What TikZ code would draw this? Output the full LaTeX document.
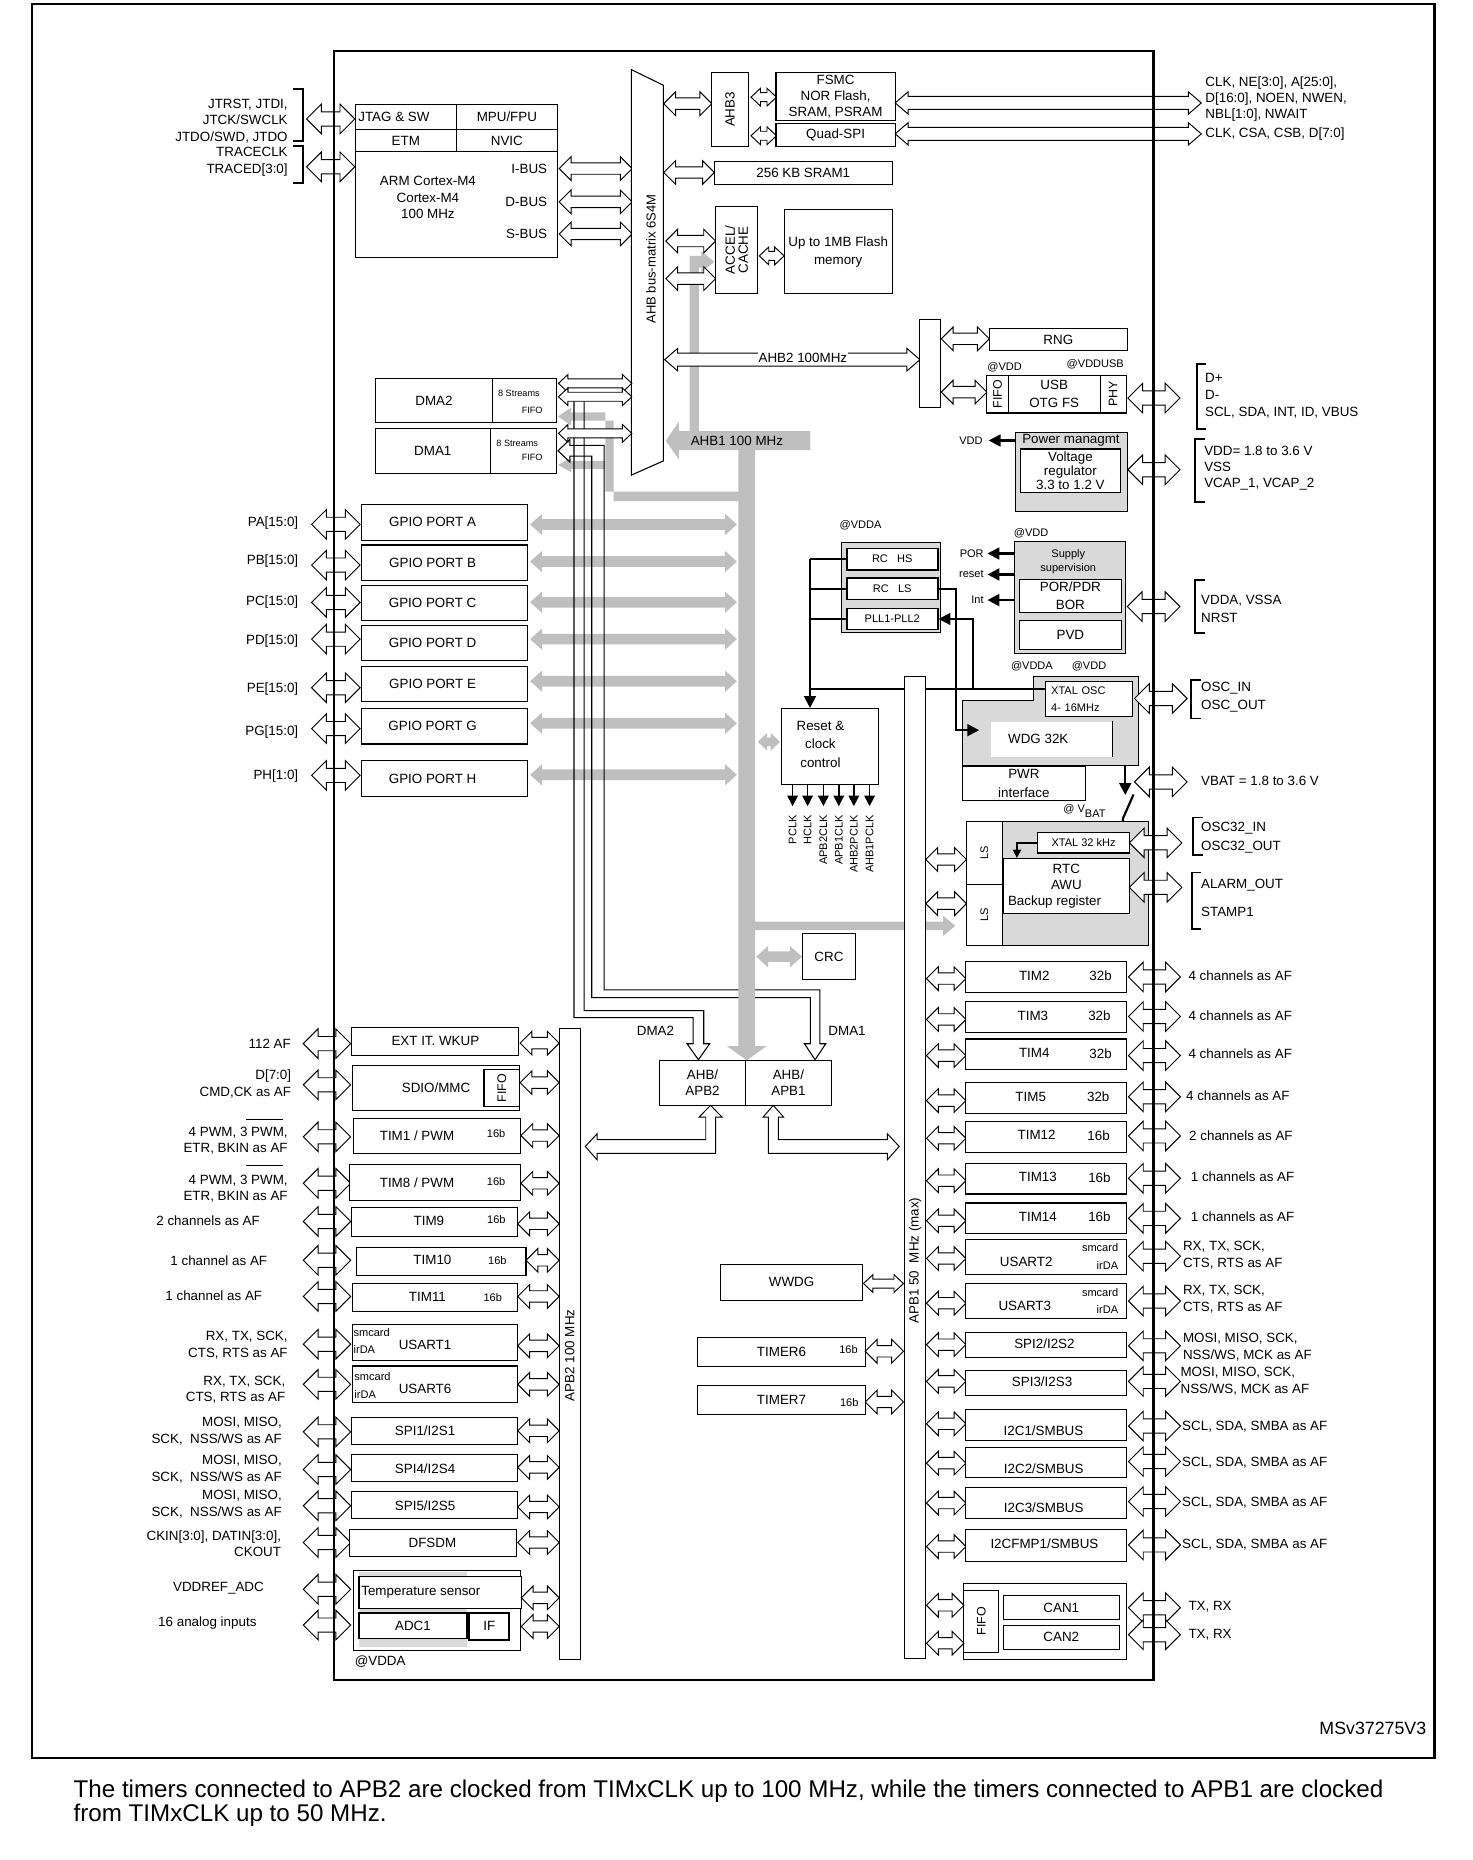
\documentclass[tikz,border=0pt]{standalone}
\usepackage{graphicx}
\usepackage{fontspec}
\setmainfont{Liberation Sans}
\usetikzlibrary{arrows.meta}
% hollow bus arrow: style, head length, head half width, shaft half width, (x1:x2:y)
\def\busarrow#1#2#3#4(#5:#6:#7){\path[#1] (#5,#7) -- (#5+#2,#7-#3) -- (#5+#2,#7-#4) -- (#6-#2,#7-#4) -- (#6-#2,#7-#3) -- (#6,#7) -- (#6-#2,#7+#3) -- (#6-#2,#7+#4) -- (#5+#2,#7+#4) -- (#5+#2,#7+#3) -- cycle;}
\def\dbus{\busarrow{bus}{8}{7.5}{3.8}}
\def\hbus{\busarrow{bus}{10}{10}{4.8}}
\def\mbus{\busarrow{bus}{11}{9.5}{5.5}}
\def\Hbus{\busarrow{bus}{12.5}{12.5}{6}}
\def\gbus{\busarrow{gbus}{10}{9}{4.5}}
\def\blk[#1](#2)(#3,#4)(#5,#6)#7{\pgfmathsetmacro\blkw{#5-#3}\pgfmathsetmacro\blkh{#6-#4}\node[box,#1,minimum width=\blkw pt,minimum height=\blkh pt] (#2) at ({(#3+#5)/2},{(#4+#6)/2}) {#7};}
\def\brk(#1:#2:#3){\draw[line width=1.6pt] (#1+8,#2) -- (#1,#2) -- (#1,#3) -- (#1+8,#3);}
\tikzset{
  box/.style={draw, line width=0.9pt, fill=white, inner sep=0pt},
  gbox/.style={fill=gray!30},
  bus/.style={draw, line width=0.8pt, fill=white},
  gbus/.style={fill=gray!50},
  pipe/.style={line width=0.9pt},
  wire/.style={line width=1.8pt},
  arr/.style={-{Triangle[length=10pt,width=10pt]}},
  sm/.style={font=\fontsize{9.3}{11.8}\selectfont},
  tiny/.style={font=\fontsize{7.7}{9}\selectfont},
  lead/.style={font=\fontsize{11.3}{#1}\selectfont},
  extr/.style={anchor=west, align=left},
  extl/.style={anchor=east, align=right},
}
\begin{document}
\begin{tikzpicture}[x=1pt, y=-1pt, every node/.style={font=\fontsize{11.3}{13.5}\selectfont, inner sep=0pt, align=center}]
		\useasboundingbox (0,0) rectangle (1243,1570);
		
		%%%%% AHB1 GRAY PATHS %%%%%
		\gbus(447.5:622:442.7)
		\gbus(447.5:622:474)
		\gbus(447.5:622:508.3)
		\gbus(447.5:622:539.5)
		\gbus(447.5:622:575)
		\gbus(447.5:622:610.5)
		\gbus(447.5:622:654)
		\fill[gbus] (624,415) -- (511,415) -- (511,348) -- (482,348) -- (482,344) -- (471,351.5) -- (482,359) -- (482,355) -- (518,355) -- (518,423) -- (624,423) -- cycle;
		\fill[gbus] (511,389) -- (482,389) -- (482,386.5) -- (471,392.5) -- (482,398.5) -- (482,396) -- (511,396) -- cycle;
		\fill[gbus] (582,364) -- (582,216) -- (592,216) -- (592,212) -- (603,221) -- (592,230) -- (592,226) -- (590,226) -- (590,364) -- cycle;
		
		%%%%% DMA PIPES %%%%%
		\draw[pipe] (484.5,338.7) -- (484.5,859) -- (585,859) -- (585,881) -- (580,881) -- (589.5,894.5) -- (599,881) -- (594,881) -- (594,853) -- (493,853) -- (493,338.7);
		\draw[pipe] (510,376) -- (481,376) -- (481,371) -- (471,380.5) -- (481,390) -- (481,385) -- (499.5,385) -- (499.5,842) -- (684,842) -- (684,881) -- (679,881) -- (688,894.5) -- (697,881) -- (692,881) -- (692,835.5) -- (510,835.5) -- cycle;
		\node (dma2lbl) at (553.3,870) {DMA2};
		\node (dma1lbl) at (715,870) {DMA1};
		
		\fill[gbus] (684,364) -- (573,364) -- (573,356) -- (562,372) -- (573,388) -- (573,380) -- (684,380) -- cycle;
		\fill[gbus] (623.3,372) -- (637.4,372) -- (637.4,883) -- (647,883) -- (630.3,895) -- (613.5,883) -- (623.3,883) -- cycle;
		\fill[gbus] (637,778) -- (796,778) -- (796,773) -- (806.5,781.5) -- (796,790) -- (796,785) -- (637,785) -- cycle;
		\gbus(638.3:676.8:807.5)
		\busarrow{gbus}{8}{7.5}{3.5}(639.6:658.5:626.2)
		\node (ahb1) at (622,372) {AHB1 100 MHz};
		
		%%%%% CORTEX %%%%%
		\draw[line width=1.6pt] (247.7,74.8) -- (256,74.8) -- (256,119) -- (247.7,119);
		\draw[line width=1.6pt] (247.7,123) -- (256,123) -- (256,154.4) -- (247.7,154.4);
		\node[extl, lead=14] (jtagpins) at (243,102) {JTRST, JTDI,\\JTCK/SWCLK\\JTDO/SWD, JTDO};
		\node[extl, lead=14.2] (tracepins) at (243,136.7) {TRACECLK\\TRACED[3:0]};
		\Hbus(258.8:299.5:100.4)
		\Hbus(258.8:299.5:140.8)
		\blk[](jtag)(300,88.3)(385,109.2){\hspace*{-20pt}JTAG \& SW}
		\blk[](mpu)(385,88.3)(470.7,109.2){MPU/FPU}
		\blk[](etm)(300,109.2)(385,128){ETM}
		\blk[](nvic)(385,109.2)(470.7,128){NVIC}
		\blk[](cpu)(300,128)(470.7,217){}
		\node[lead=13.9] (cpulbl) at (361.2,167) {ARM Cortex-M4\\Cortex-M4\\100 MHz};
		\node[anchor=east] (ibus) at (462,142.3) {I-BUS};
		\node[anchor=east] (dbus) at (462,170.4) {D-BUS};
		\node[anchor=east] (sbus) at (462,197.5) {S-BUS};
		\hbus(472:533.6:142.3)
		\hbus(472:533.6:170.4)
		\hbus(472:533.6:197.5)
		
		\draw[line width=0.9pt, fill=white] (533,58.8) -- (560,72) -- (560,389) -- (533,401) -- cycle;
		\node[rotate=90, font=\fontsize{11}{13}\selectfont] (mtx) at (549.5,218.6) {AHB bus-matrix 6S4M};
		
		%%%%% AHB3 / MEMORIES %%%%%
		\hbus(560.2:600.8:87.5)
		\blk[](ahb3)(600.9,61.2)(631.5,123.6){\rotatebox{90}{AHB3}}
		\dbus(633.9:655.4:82)
		\dbus(633.9:655.4:114.6)
		\blk[lead=13.8](fsmc)(655,61.2)(755.6,102){FSMC\\NOR Flash,\\SRAM, PSRAM}
		\blk[](qspi)(655,104.6)(755.6,124){Quad-SPI}
		\mbus(755.6:1014:86.9)
		\mbus(755.6:1014:113)
		\node[extr, lead=13.7] (fsmcpins) at (1017.3,83.7) {CLK, NE[3:0], A[25:0],\\D[16:0], NOEN, NWEN,\\NBL[1:0], NWAIT};
		\node[extr] (qspipins) at (1017.3,113) {CLK, CSA, CSB, D[7:0]};
		\hbus(560.2:603:145.6)
		\blk[](sram)(603,136.6)(753,155.6){256 KB SRAM1}
		\hbus(562:604:203.5)
		\hbus(562:604:235.2)
		\blk[lead=13](accel)(604,174)(639.5,248){\rotatebox{90}{\shortstack{ACCEL/\\CACHE}}}
		\dbus(640.9:661.9:216)
		\blk[lead=15](flash)(662,177)(753,248){Up to 1MB Flash\\memory}
		
		%%%%% AHB2 / USB / POWER %%%%%
		\mbus(561:776.5:303.6)
		\node[fill=white, inner sep=0.5pt] (ahb2) at (677.7,302) {AHB2 100MHz};
		\blk[](ahb2br)(776.5,269.5)(793.6,343.7){}
		\hbus(794.5:835:286)
		\hbus(794.5:833:331)
		\blk[](rng)(835,277)(951.6,296){RNG}
		\blk[lead=15.3](usb)(851,316.6)(928.7,348.6){USB\\OTG FS}
		\blk[font=\fontsize{10.5}{12}\selectfont](usbfifo)(833,316.6)(851,348.6){\rotatebox{90}{FIFO}}
		\blk[font=\fontsize{10.5}{12}\selectfont](phy)(928.7,316.6)(950.5,348.6){\rotatebox{90}{PHY}}
		\node[sm] (usbvdd) at (848,310) {@VDD};
		\node[sm] (usbvddusb) at (924.5,307.8) {@VDDUSB};
		\Hbus(952:996:336)
		\brk(1010:307:362)
		\node[extr, lead=14.3] (usbpins) at (1017,334) {D+\\D-\\SCL, SDA, INT, ID, VBUS};
		
		\blk[gbox](pwr)(857,364.9)(951.6,431.5){}
		\node (pwrlbl) at (904,371.8) {Power managmt};
		\blk[lead=11.8](vreg)(861,379)(946,415.5){Voltage\\regulator\\3.3 to 1.2 V}
		\node[sm] (vddout) at (819.5,371.8) {VDD};
		\draw[wire, arr] (pwr.west |- pwrlbl) -- ([xshift=5pt]vddout.east);
		\Hbus(952:996:396.5)
		\brk(1009:370.8:423.6)
		\node[extr, lead=13.4] (pwrpins) at (1016.3,395) {VDD= 1.8 to 3.6 V\\VSS\\VCAP\_1, VCAP\_2};
		
		%%%%% DMA %%%%%
		\blk[](dma2)(316.6,319.6)(416,357){DMA2}
		\blk[](dma2f)(416,319.6)(469.4,357){}
		\node[tiny] (dma2s) at (438,331.7) {8 Streams};
		\node[tiny] (dma2ff) at (449.2,346.7) {FIFO};
		\blk[](dma1)(316.6,361.8)(414,399.5){DMA1}
		\blk[](dma1f)(414,361.8)(469.4,399.5){}
		\node[tiny] (dma1s) at (436.6,373.9) {8 Streams};
		\node[tiny] (dma1ff) at (449.2,385.9) {FIFO};
		\dbus(471.4:533.3:323.6)
		\dbus(471.4:533.3:334.9)
		\dbus(471.4:533.3:365.8)
		
		%%%%% GPIO %%%%%
		\node[extl] (pa) at (251.9,441.8) {PA[15:0]};
		\node[extl] (pb) at (251.9,473.6) {PB[15:0]};
		\node[extl] (pc) at (251.9,508.5) {PC[15:0]};
		\node[extl] (pd) at (251.9,540.9) {PD[15:0]};
		\node[extl] (pe) at (251.9,581.7) {PE[15:0]};
		\node[extl] (pg) at (251.9,618.3) {PG[15:0]};
		\node[extl] (ph) at (251.9,654.9) {PH[1:0]};
		\Hbus(263:304:442.6)
		\Hbus(263:304:477)
		\Hbus(263:304:508.5)
		\Hbus(263:304:539.5)
		\Hbus(263:304:580.5)
		\Hbus(263:304:615)
		\Hbus(263:304:654.5)
		\blk[](gpioa)(304.8,425.8)(445.5,455.9){\hspace*{-20pt}GPIO PORT A}
		\blk[](gpiob)(304.8,460)(445.5,489.7){\hspace*{-20pt}GPIO PORT B}
		\blk[](gpioc)(304.8,493.9)(445.5,524){\hspace*{-20pt}GPIO PORT C}
		\blk[](gpiod)(304.8,527.7)(445.5,557.2){\hspace*{-20pt}GPIO PORT D}
		\blk[](gpioe)(304.8,562.8)(445.5,592.4){\hspace*{-20pt}GPIO PORT E}
		\blk[](gpiog)(304.8,598)(445.5,628){\hspace*{-20pt}GPIO PORT G}
		\blk[](gpioh)(304.8,642.2)(445.5,672){\hspace*{-20pt}GPIO PORT H}
		
		%%%%% CLOCKS AND SUPPLY %%%%%
		\node[sm] (rcvdda) at (726.4,443.2) {@VDDA};
		\blk[gbox, line width=1.2pt](rcblk)(710.4,458)(793.7,534){}
		\blk[sm, line width=1.5pt](rchs)(714.7,463)(791.5,481){RC\ \ \ HS}
		\blk[sm, line width=1.5pt](rcls)(714.7,488)(791.5,506){RC\ \ \ LS}
		\blk[sm, line width=1.5pt](pll)(714.7,513.6)(791.5,531.3){PLL1-PLL2}
		\node[sm] (supvdd) at (870.4,450.3) {@VDD};
		\blk[gbox, line width=1.2pt](supply)(856.5,457.3)(950,551.6){}
		\node[sm] (suplbl) at (901.7,474) {Supply\\supervision};
		\blk[lead=15](porpdr)(860.5,489)(946.4,517.3){POR/PDR\\BOR}
		\blk[](pvd)(860.5,524)(946.4,548){PVD}
		\node[sm, anchor=east] (por) at (830.5,467.2) {POR};
		\node[sm, anchor=east] (rst) at (830.5,484.9) {reset};
		\node[sm, anchor=east] (int) at (830.5,506.5) {Int};
		\draw[wire, arr] (supply.west |- por) -- ([xshift=3pt]por.east);
		\draw[wire, arr] (supply.west |- rst) -- ([xshift=3pt]rst.east);
		\draw[wire, arr] (supply.west |- int) -- ([xshift=3pt]int.east);
		\Hbus(951.5:996:512)
		\brk(1008.9:489.7:534)
		\node[extr, lead=15.5] (vddapins) at (1013.7,514.2) {VDDA, VSSA\\NRST};
		
		\node[sm] (wdgvdda) at (871,562) {@VDDA};
		\node[sm] (wdgvdd) at (919.2,562) {@VDD};
		\draw[line width=0.9pt, fill=gray!30] (872.3,571.3) -- (960.6,571.3) -- (960.6,645.8) -- (812.5,645.8) -- (812.5,591) -- (872.3,591) -- cycle;
		\blk[font=\fontsize{9.3}{15}\selectfont, align=left, text width=64pt](xtal)(882.6,575.5)(956,605){XTAL OSC\\4- 16MHz}
		\blk[draw=none](wdg)(836.5,609.3)(938.3,638.8){\hspace*{-22pt}WDG 32K}
		\draw[line width=0.9pt] (wdg.north east) -- (wdg.south east);
		\blk[lead=15.5](pwri)(812.5,646.7)(916,676){PWR\\interface}
		\draw[wire, arr] (949.8,645.9) -- (949.8,671);
		\draw[wire] (956.8,670.6) -- (947.8,690.9) -- (948.4,702.7);
		\node[sm] (vbatlbl) at (915.4,684.5) {@ V\raisebox{-4.5pt}{BAT}};
		\Hbus(957.6:1002:589.6)
		\brk(1005.5:574:606.5)
		\node[extr, lead=15] (oscpins) at (1013.7,588.5) {OSC\_IN\\OSC\_OUT};
		\Hbus(957.6:1002:660)
		\node[extr] (vbatpins) at (1013.7,659.4) {VBAT = 1.8 to 3.6 V};
		
		\blk[gbox](rtcblk)(815.8,693.7)(969.2,797.8){}
		\blk[sm](ls1)(815.8,693.7)(845.8,746.6){\rotatebox{90}{LS}}
		\blk[sm](ls2)(815.8,746.6)(845.8,797.8){\rotatebox{90}{LS}}
		\blk[sm](xtal32)(876,702.7)(953.3,720){XTAL 32 kHz}
		\blk[lead=13.4](rtc)(847.2,724.6)(953,771){RTC\\AWU\\\hspace*{-20pt}Backup register}
		\draw[line width=1.3pt, -{Triangle[length=7pt,width=7pt]}] (xtal32.west) -| ([xshift=11.6pt]rtc.north west);
		\hbus(781.4:815.8:725.5)
		\hbus(781.4:815.8:762.7)
		\Hbus(953.3:997.6:711.4)
		\brk(1007:690:722)
		\node[extr, lead=16] (osc32pins) at (1013.7,706.7) {OSC32\_IN\\OSC32\_OUT};
		\Hbus(953.3:997.6:749)
		\brk(1006:736.5:784.3)
		\node[extr, lead=23.4] (rtcpins) at (1013.7,758) {ALARM\_OUT\\STAMP1};
		
		\blk[](rcc)(659.6,598)(741.4,662){}
		\node[lead=15.8] (rcclbl) at (692.5,628.3) {Reset \&\\clock\\control};
		\draw[line width=1.3pt, -{Triangle[length=9pt,width=9pt]}] (669,662) -- (669,680.5);
		\draw[line width=1.3pt, -{Triangle[length=9pt,width=9pt]}] (681.7,662) -- (681.7,680.5);
		\draw[line width=1.3pt, -{Triangle[length=9pt,width=9pt]}] (695,662) -- (695,680.5);
		\draw[line width=1.3pt, -{Triangle[length=9pt,width=9pt]}] (708,662) -- (708,680.5);
		\draw[line width=1.3pt, -{Triangle[length=9pt,width=9pt]}] (720.7,662) -- (720.7,680.5);
		\draw[line width=1.3pt, -{Triangle[length=9pt,width=9pt]}] (734,662) -- (734,680.5);
		\node[sm, rotate=90, anchor=east] (pclk) at (669,688) {PCLK};
		\node[sm, rotate=90, anchor=east] (hclk) at (681.7,688) {HCLK};
		\node[sm, rotate=90, anchor=east] (apb2clk) at (695,688) {APB2CLK};
		\node[sm, rotate=90, anchor=east] (apb1clk) at (708,688) {APB1CLK};
		\node[sm, rotate=90, anchor=east] (ahb2clk) at (720.7,688) {AHB2PCLK};
		\node[sm, rotate=90, anchor=east] (ahb1clk) at (734,688) {AHB1PCLK};
		
		\coordinate (rcbus) at (683.7,472);
		\coordinate (xtalin) at ([yshift=8.5pt]xtal.west);
		\coordinate (pllin) at (821.5,581.7);
		\coordinate (wdgin) at (826.5,616.3);
		\draw[wire] (rchs.west) -- (rchs.west -| rcbus);
		\draw[wire, arr] (rcbus) -- (rcbus |- rcc.north);
		\draw[wire] (rcls.west) -- (rcls.west -| rcbus);
		\draw[wire] (pll.west) -- (pll.west -| rcbus);
		\draw[wire] (xtalin) -- (xtalin -| rcbus);
		\draw[wire, arr] (rcls.east) -- ++(14.4,0) |- (wdgin);
		\draw[wire, arr] (pllin) |- (pll.east);
		
		%%%%% BRIDGES %%%%%
		\blk[](crc)(677.4,788)(722,827){CRC}
		\blk[lead=13.6](br2)(557,895)(629,933){AHB/\\APB2}
		\blk[lead=13.6](br1)(629,895)(702,933){AHB/\\APB1}
		\path[bus] (599.8,933) -- (609.5,943) -- (604,943) -- (604,973.5) -- (504,973.5) -- (504,979) -- (494,967.7) -- (504,957) -- (504,962) -- (595.7,962) -- (595.7,943) -- (590,943) -- cycle;
		\path[bus] (652.7,933) -- (661.5,943) -- (657,943) -- (657,962) -- (749,962) -- (749,957) -- (759,967.7) -- (749,979) -- (749,973.5) -- (648.5,973.5) -- (648.5,943) -- (644,943) -- cycle;
		
		\blk[](wwdg)(608,1067)(728.3,1097.5){WWDG}
		\dbus(728.8:762.6:1083.4)
		\blk[](tim6)(589,1129)(730.3,1153.3){TIMER6}
		\node[sm] (tim6b) at (716.2,1139) {16b};
		\hbus(730.3:762.6:1140.6)
		\blk[](tim7)(589,1169.8)(730.3,1194){TIMER7}
		\node[sm] (tim7b) at (716.8,1184) {16b};
		\hbus(730.3:762.6:1183.4)
		
		%%%%% APB2 %%%%%
		\node[extl] (extpins) at (245.7,880.9) {112 AF};
		\Hbus(256:296:880.9)
		\blk[](exti)(297,867)(438,890.7){EXT IT. WKUP}
		\hbus(439:472:880.5)
		
		\node[extl, lead=14.2] (sdiopins) at (245.9,914.7) {D[7:0]\\CMD,CK as AF};
		\Hbus(256:296:915.7)
		\blk[](sdio)(297.6,899)(438.5,937.6){SDIO/MMC}
		\blk[font=\fontsize{10.5}{12}\selectfont, line width=1.3pt](sdiofifo)(408.6,902.8)(438.5,933.8){\rotatebox{90}{FIFO}}
		\hbus(439:472:913.8)
		
		\node[extl, lead=13.5] (tim1pins) at (243,963) {4 PWM, 3 PWM,\\ETR, BKIN as AF};
		\draw[line width=0.8pt] (207.7,944.5) -- (238.6,944.5);
		\Hbus(256:296:959.6)
		\blk[](tim1)(298.5,943.9)(439.7,973.5){}
		\node (tim1lbl) at (352,958.8) {TIM1 / PWM};
		\node[sm] (tim1b) at (418.8,957) {16b};
		\hbus(439.7:472:958.5)
		
		\node[extl, lead=13.5] (tim8pins) at (243,1003) {4 PWM, 3 PWM,\\ETR, BKIN as AF};
		\draw[line width=0.8pt] (207.7,984) -- (238.6,984);
		\Hbus(256:296:998.8)
		\blk[](tim8)(295,983)(439.7,1013){}
		\node (tim8lbl) at (352,998.4) {TIM8 / PWM};
		\node[sm] (tim8b) at (418.8,997.5) {16b};
		\hbus(439.7:472:998.8)
		
		\node[extl] (tim9pins) at (219.5,1030) {2 channels as AF};
		\Hbus(256:296:1031)
		\blk[](tim9)(297,1019)(436.6,1043.5){}
		\node (tim9lbl) at (362,1030.6) {TIM9};
		\node[sm] (tim9b) at (419,1029) {16b};
		\hbus(437:472:1033)
		
		\node[extl] (tim10pins) at (225.7,1063.8) {1 channel as AF};
		\Hbus(256:296:1063.8)
		\blk[](tim10)(301,1052.6)(444,1077){}
		\node (tim10lbl) at (365,1063.7) {TIM10};
		\node[sm] (tim10b) at (419.8,1064) {16b};
		\hbus(444:472:1063.8)
		
		\node[extl] (tim11pins) at (221.5,1093.5) {1 channel as AF};
		\Hbus(256:296:1094.3)
		\blk[](tim11)(297.5,1083)(436.6,1107){}
		\node (tim11lbl) at (360.8,1094.7) {TIM11};
		\node[sm] (tim11b) at (415.9,1095) {16b};
		\hbus(437:472:1094.3)
		
		\node[extl, lead=14.6] (usart1pins) at (243,1135.3) {RX, TX, SCK,\\CTS, RTS as AF};
		\Hbus(256:296:1134.6)
		\blk[](usart1)(297.5,1117.6)(436.6,1148){}
		\node[sm, anchor=west] (usart1sm) at (298.3,1124.6) {smcard};
		\node[sm, anchor=west] (usart1ir) at (298.3,1139.3) {irDA};
		\node (usart1lbl) at (358.8,1135.3) {USART1};
		\hbus(437:472:1136)
		
		\node[extl, lead=13.4] (usart6pins) at (241,1172.7) {RX, TX, SCK,\\CTS, RTS as AF};
		\Hbus(256:296:1168.5)
		\blk[](usart6)(297.5,1153)(437,1183.6){}
		\node[sm, anchor=west] (usart6sm) at (299,1161.7) {smcard};
		\node[sm, anchor=west] (usart6ir) at (299,1176.7) {irDA};
		\node (usart6lbl) at (358.8,1172.6) {USART6};
		\hbus(437:472:1168.5)
		
		\node[extl, lead=13.8] (spi1pins) at (238,1208.1) {MOSI, MISO,\\SCK,\ \ NSS/WS as AF};
		\Hbus(256:296:1208.6)
		\blk[](spi1)(297,1196.8)(436.6,1219.5){}
		\node (spi1lbl) at (358.8,1207.3) {SPI1/I2S1};
		\hbus(437:472:1207.7)
		
		\node[extl, lead=14] (spi4pins) at (238,1240) {MOSI, MISO,\\SCK,\ \ NSS/WS as AF};
		\Hbus(256:296:1240.4)
		\blk[](spi4)(297,1228)(436.6,1250.5){}
		\node (spi4lbl) at (358.8,1240) {SPI4/I2S4};
		\hbus(437:472:1238.6)
		
		\node[extl, lead=14.5] (spi5pins) at (238,1269.3) {MOSI, MISO,\\SCK,\ \ NSS/WS as AF};
		\Hbus(256:296:1271)
		\blk[](spi5)(297,1259)(436.6,1282){}
		\node (spi5lbl) at (358.8,1271) {SPI5/I2S5};
		\hbus(437:472:1272)
		
		\node[extl, lead=13.6] (dfsdmpins) at (237.4,1302.8) {CKIN[3:0], DATIN[3:0],\\CKOUT};
		\Hbus(256:296:1302)
		\blk[](dfsdm)(295,1291)(436.3,1313.7){}
		\node (dfsdmlbl) at (365,1302) {DFSDM};
		\hbus(437:472:1302)
		
		\node[extl] (vrefpin) at (222.9,1340.7) {VDDREF\_ADC};
		\Hbus(256:296:1341.5)
		\node[extl] (ainpin) at (216.7,1370) {16 analog inputs};
		\Hbus(256:296:1371.7)
		\blk[](adc)(298.5,1325.6)(439.7,1393.5){}
		\fill[gray!30] (303,1327) rectangle (394,1390.5);
		\blk[](tempsens)(303,1331)(440,1357.5){}
		\node[anchor=west] (templbl) at (304.8,1344) {Temperature sensor};
		\blk[line width=1.6pt](adc1)(303.3,1361.5)(393.9,1383){ADC1}
		\blk[line width=1.6pt](adcif)(396.2,1361.5)(430,1384){IF}
		\node (adcvdda) at (320.9,1402.5) {@VDDA};
		\hbus(440:472:1348.7)
		\hbus(440:472:1372.9)
		
		%%%%% APB1 %%%%%
		\hbus(782:815.3:826)
		\blk[](tim2)(815.3,811.5)(951,837.4){}
		\node (tim2lbl) at (873,823.5) {TIM2};
		\node (tim2b) at (929,823.5) {32b};
		\Hbus(952.5:996.4:824.6)
		\node[extr] (tim2pins) at (1003,823.5) {4 channels as AF};
		
		\hbus(782:815.3:860.5)
		\blk[](tim3)(815.3,845.4)(951,871.3){}
		\node (tim3lbl) at (871.8,857.3) {TIM3};
		\node (tim3b) at (928,857.3) {32b};
		\Hbus(952.5:996.4:858)
		\node[extr] (tim3pins) at (1003,857.3) {4 channels as AF};
		
		\hbus(782:815.3:891)
		\blk[](tim4)(815.3,877)(951,903){}
		\node (tim4lbl) at (873,889) {TIM4};
		\node (tim4b) at (929,889) {32b};
		\Hbus(952.5:996.4:891)
		\node[extr] (tim4pins) at (1003,889) {4 channels as AF};
		
		\hbus(782:815.3:929)
		\blk[](tim5)(815.3,914)(951,940){}
		\node (tim5lbl) at (870,925.8) {TIM5};
		\node (tim5b) at (927,925.8) {32b};
		\Hbus(952.5:996.4:925.8)
		\node[extr] (tim5pins) at (1001,925) {4 channels as AF};
		
		\hbus(782:815.3:960.8)
		\blk[](tim12)(815.3,947)(951,972.7){}
		\node (tim12lbl) at (875,958.3) {TIM12};
		\node (tim12b) at (927.3,958.3) {16b};
		\Hbus(952.5:996.4:958.8)
		\node[extr] (tim12pins) at (1003.6,958.3) {2 channels as AF};
		
		\hbus(782:815.3:996.6)
		\blk[](tim13)(815.3,982)(951,1007.8){}
		\node (tim13lbl) at (876,993.7) {TIM13};
		\node (tim13b) at (928,993.7) {16b};
		\Hbus(952.5:996.4:994.6)
		\node[extr] (tim13pins) at (1005,993) {1 channels as AF};
		
		\hbus(782:815.3:1030.4)
		\blk[](tim14)(815.3,1015.4)(951,1041.3){}
		\node (tim14lbl) at (876,1027.4) {TIM14};
		\node (tim14b) at (928,1027.4) {16b};
		\Hbus(952.5:996.4:1028.4)
		\node[extr] (tim14pins) at (1005,1027) {1 channels as AF};
		
		\hbus(782:815.3:1062.3)
		\blk[](usart2)(815.3,1046.4)(951,1075.6){}
		\node (usart2lbl) at (866.2,1065) {USART2};
		\node[sm, anchor=east] (usart2sm) at (944,1053) {smcard};
		\node[sm, anchor=east] (usart2ir) at (944,1068.4) {irDA};
		\Hbus(952.5:996.4:1060.4)
		\node[extr, lead=13.9] (usart2pins) at (998.4,1059.4) {RX, TX, SCK,\\CTS, RTS as AF};
		
		\hbus(782:815.3:1100)
		\blk[](usart3)(815.3,1083.5)(951,1113){}
		\node (usart3lbl) at (865,1102) {USART3};
		\node[sm, anchor=east] (usart3sm) at (944,1091.4) {smcard};
		\node[sm, anchor=east] (usart3ir) at (944,1105.4) {irDA};
		\Hbus(952.5:996.4:1098.2)
		\node[extr, lead=13.9] (usart3pins) at (998.4,1096.5) {RX, TX, SCK,\\CTS, RTS as AF};
		
		\hbus(782:815.3:1135)
		\blk[](spi2)(815.3,1125)(951,1146){}
		\node (spi2lbl) at (881.6,1134) {SPI2/I2S2};
		\Hbus(952.5:996.4:1136)
		\node[extr, lead=14] (spi2pins) at (998.4,1137) {MOSI, MISO, SCK,\\NSS/WS, MCK as AF};
		
		\hbus(782:815.3:1166)
		\blk[](spi3)(815.3,1157)(951,1178){}
		\node (spi3lbl) at (879.6,1166) {SPI3/I2S3};
		\Hbus(952.5:996.4:1166)
		\node[extr, lead=14] (spi3pins) at (996.3,1166) {MOSI, MISO, SCK,\\NSS/WS, MCK as AF};
		
		\hbus(782:815.3:1201.8)
		\blk[](i2c1)(815.3,1190)(951,1215.7){}
		\node (i2c1lbl) at (880.8,1207.8) {I2C1/SMBUS};
		\Hbus(952.5:996.4:1203.7)
		\node[extr] (i2c1pins) at (997.7,1204.6) {SCL, SDA, SMBA as AF};
		
		\hbus(782:815.3:1235)
		\blk[](i2c2)(815.3,1222)(951,1247.5){}
		\node (i2c2lbl) at (881,1239.6) {I2C2/SMBUS};
		\Hbus(952.5:996.4:1233.6)
		\node[extr] (i2c2pins) at (997.7,1235) {SCL, SDA, SMBA as AF};
		
		\hbus(782:815.3:1268.7)
		\blk[](i2c3)(815.3,1255.4)(951,1281.4){}
		\node (i2c3lbl) at (881,1273) {I2C3/SMBUS};
		\Hbus(952.5:996.4:1267.4)
		\node[extr] (i2c3pins) at (997.7,1268) {SCL, SDA, SMBA as AF};
		
		\hbus(782:815.3:1305.4)
		\blk[](fmp)(815.3,1291.4)(951,1317.7){}
		\node (fmplbl) at (881.6,1303.3) {I2CFMP1/SMBUS};
		\Hbus(952.5:996.4:1304)
		\node[extr] (fmppins) at (997.7,1303.6) {SCL, SDA, SMBA as AF};
		
		\blk[](can)(813.6,1336.4)(950.6,1400.7){}
		\blk[font=\fontsize{10.5}{12}\selectfont](canfifo)(813.6,1342.4)(843,1394.7){\rotatebox{90}{FIFO}}
		\blk[](can1)(847,1347)(944.7,1367){CAN1}
		\blk[](can2)(847,1372)(944.7,1392){CAN2}
		\hbus(782:813.6:1355)
		\hbus(782:813.6:1387)
		\Hbus(952.5:996.4:1357)
		\Hbus(952.5:996.4:1379.8)
		\node[extr] (can1pins) at (1003,1356.3) {TX, RX};
		\node[extr] (can2pins) at (1003,1379.8) {TX, RX};
		
		%%%%% APB BUSES %%%%%
		\blk[](apb2)(472,868)(490,1400.7){}
		\node[rotate=90] (apb2lbl) at (481,1144) {APB2 100 MHz};
		\blk[](apb1)(763.4,571)(781.4,1400){}
		\node[rotate=90] (apb1lbl) at (772.5,1064) {APB1 50\ \ MHz (max)};
		
		%%%%% FRAMES %%%%%
		\draw[line width=2.2pt] (282,43) rectangle (973.7,1418);
		\draw[line width=2.2pt] (27,3.5) rectangle (1211,1484);
		\node[anchor=base east, font=\fontsize{15}{17}\selectfont] (docref) at (1204,1464) {MSv37275V3};
		\node[anchor=north west, align=left, font=\fontsize{20.4}{20.5}\selectfont] (note) at (62,1502) {The timers connected to APB2 are clocked from TIMxCLK up to 100 MHz, while the timers connected to APB1 are clocked\\from TIMxCLK up to 50 MHz.};
		
\end{tikzpicture}
\end{document}
